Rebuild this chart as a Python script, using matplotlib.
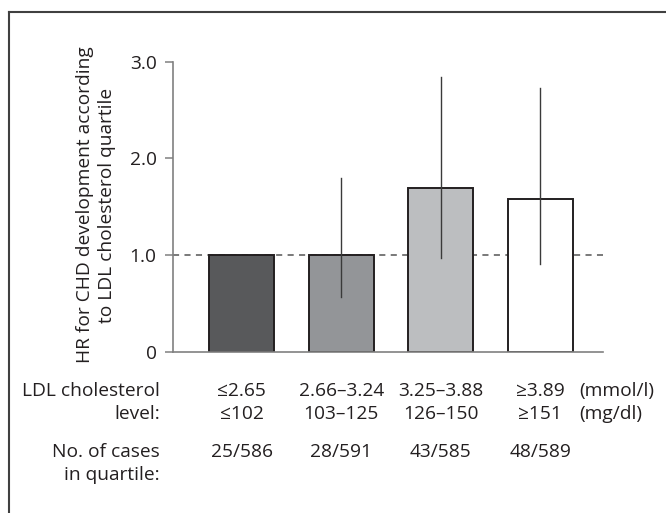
import matplotlib
matplotlib.use("Agg")
import matplotlib.pyplot as plt
from matplotlib.lines import Line2D
from matplotlib.transforms import blended_transform_factory

plt.rcParams["font.family"] = ["Open Sans", "DejaVu Sans"]

# data
hr = [1.0, 1.0, 1.69, 1.58]
ci_low = [None, 0.57, 0.97, 0.91]
ci_high = [None, 1.80, 2.84, 2.73]
colors = ["#58595b", "#939598", "#bcbec0", "#ffffff"]
mmol = ["≤2.65", "2.66–3.24", "3.25–3.88", "≥3.89"]
mgdl = ["≤102", "103–125", "126–150", "≥151"]
cases = ["25/586", "28/591", "43/585", "48/589"]
yticks = [0, 1, 2, 3]
ytick_labels = ["0", "1.0", "2.0", "3.0"]

W, H = 666, 513
fig = plt.figure(figsize=(W / 100, H / 100), dpi=100)
txt = "#231f20"
fs = 13.8

# axes placed in pixel terms
ax = fig.add_axes([172.7 / W, 1 - 351.7 / H, (602.7 - 172.7) / W, (351.7 - 61.7) / H])

x = list(range(len(hr)))
ax.bar(x, hr, width=0.655, color=colors, edgecolor="#231f20", linewidth=1.4, zorder=2)

# error bars (no caps)
for xi, lo, hi in zip(x, ci_low, ci_high):
    if lo is None:
        continue
    ax.plot([xi, xi], [lo, hi], color="#3a3a3a", linewidth=1.0, zorder=3)

# reference line at HR = 1
ax.axhline(1.0, color="#555555", linewidth=1.1, linestyle=(0, (4, 3.5)), zorder=1)

ax.set_xlim(-0.6935, 3.628)
ax.set_ylim(0, 3)
ax.set_xticks([])
ax.set_yticks(yticks)
ax.set_yticklabels(ytick_labels, fontsize=fs, color=txt)
ax.tick_params(axis="y", direction="out", length=5.5, width=1.1, color="#808080", pad=6)

for s in ["top", "right"]:
    ax.spines[s].set_visible(False)
for s in ["left", "bottom"]:
    ax.spines[s].set_color("#808080")
    ax.spines[s].set_linewidth(1.2)

# y label
fig.text(96 / W, 1 - 205 / H,
         "HR for CHD development according\nto LDL cholesterol quartile",
         rotation=90, ha="center", va="center", fontsize=fs, color=txt,
         linespacing=1.25)

# table under the chart
tr = blended_transform_factory(ax.transData, fig.transFigure)
rows = [(396, mmol, "LDL cholesterol", "(mmol/l)"),
        (419.3, mgdl, "level:", "(mg/dl)"),
        (456.7, cases, "No. of cases", None),
        (480, None, "in quartile:", None)]
for ypx, vals, label, unit in rows:
    yf = 1 - ypx / H
    fig.text(160 / W, yf, label, ha="right", va="baseline", fontsize=fs, color=txt)
    if vals is not None:
        for xi, v in zip(x, vals):
            ax.text(xi, yf, v, transform=tr, ha="center", va="baseline",
                    fontsize=fs, color=txt, clip_on=False)
    if unit is not None:
        fig.text(579.3 / W, yf, unit, ha="left", va="baseline", fontsize=fs, color=txt)

# frame (cut off at right and bottom in the reference)
frame_c = "#404040"
fig.add_artist(Line2D([9 / W, 9 / W], [1 - 12 / H, 0], transform=fig.transFigure,
                      color=frame_c, linewidth=1.5))
fig.add_artist(Line2D([9 / W, 1], [1 - 12 / H, 1 - 12 / H], transform=fig.transFigure,
                      color=frame_c, linewidth=1.5))

fig.savefig("out.png", dpi=100)
